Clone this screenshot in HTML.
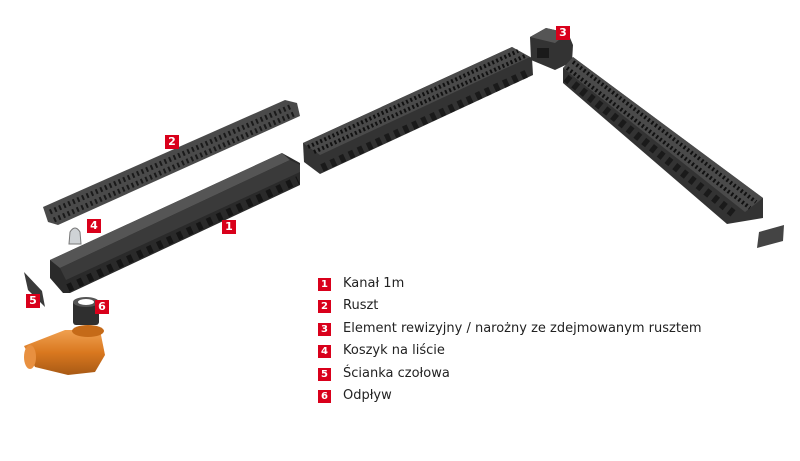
<!DOCTYPE html>
<html><head><meta charset="utf-8"><style>
html,body{margin:0;padding:0;background:#fff;width:800px;height:461px;overflow:hidden}
.lg{position:absolute;left:343px;font-family:"DejaVu Sans","Liberation Sans",sans-serif;font-size:13px;color:#222}
.bx{position:absolute;left:318px;width:13px;height:13px;background:#d9001b;color:#fff;font:bold 10px "DejaVu Sans",sans-serif;text-align:center;line-height:13px}
.tag{position:absolute;width:14px;height:14px;background:#d9001b;color:#fff;font:bold 11px "DejaVu Sans",sans-serif;text-align:center;line-height:14px}
</style></head><body>
<svg width="800" height="461" style="position:absolute;left:0;top:0">
<defs>
<linearGradient id="pipe" x1="0" y1="0" x2="0" y2="1"><stop offset="0" stop-color="#f0a050"/><stop offset="0.5" stop-color="#d9781f"/><stop offset="1" stop-color="#a85a15"/></linearGradient>
</defs>
<!-- grate 2 -->
<polygon points="43,207 285,100 297,103 300,116 58,225 48,222" fill="#4a4a4a"/>
<line x1="50" y1="212" x2="292" y2="106" stroke="#1a1a1a" stroke-width="5" stroke-dasharray="2 3"/>
<line x1="54" y1="220" x2="296" y2="113" stroke="#1a1a1a" stroke-width="5" stroke-dasharray="2 3"/>
<!-- channel 1 -->
<polygon points="50,260 282,153 300,163 300,185 70,293 63,293 50,278" fill="#2a2a2a"/>
<polygon points="50,260 282,153 290,160 60,268" fill="#555"/>
<polygon points="60,268 290,160 300,165 300,172 66,280" fill="#3a3a3a"/>
<line x1="68" y1="288" x2="298" y2="180" stroke="#151515" stroke-width="8" stroke-dasharray="5 6"/>
<!-- middle channel -->
<polygon points="303,143 512,47 532,58 533,75 320,174 304,162" fill="#333"/>
<polygon points="303,143 512,47 530,57 320,155" fill="#4a4a4a"/>
<line x1="308" y1="147" x2="518" y2="51" stroke="#111" stroke-width="4" stroke-dasharray="2 2.5"/>
<line x1="314" y1="152" x2="525" y2="56" stroke="#111" stroke-width="4" stroke-dasharray="2 2.5"/>
<line x1="322" y1="168" x2="530" y2="72" stroke="#1a1a1a" stroke-width="8" stroke-dasharray="5 5"/>
<!-- element 3 -->
<polygon points="530,37 546,28 568,33 573,45 572,62 555,70 531,60" fill="#333"/>
<polygon points="530,37 546,28 568,33 555,43" fill="#555"/>
<rect x="537" y="48" width="12" height="10" fill="#1a1a1a"/>
<!-- right channel -->
<polygon points="563,68 573,57 763,198 763,218 727,224 563,83" fill="#333"/>
<polygon points="563,68 573,57 763,198 745,212" fill="#4a4a4a"/>
<line x1="573" y1="62" x2="756" y2="202" stroke="#111" stroke-width="4" stroke-dasharray="2 2.5"/>
<line x1="567" y1="68" x2="750" y2="208" stroke="#111" stroke-width="4" stroke-dasharray="2 2.5"/>
<line x1="566" y1="78" x2="735" y2="215" stroke="#1a1a1a" stroke-width="8" stroke-dasharray="5 5"/>
<!-- end cap right -->
<polygon points="759,232 784,225 783,241 757,248" fill="#444"/>
<!-- end cap 5 left -->
<polygon points="24,272 42,291 45,307 28,290" fill="#3a3a3a"/>
<!-- basket 4 -->
<path d="M70,232 q5,-8 10,0 l1,12 l-12,0 z" fill="#cfd3d6" stroke="#777" stroke-width="1"/>
<!-- outlet 6 -->
<rect x="73" y="300" width="26" height="25" rx="3" fill="#2f2f2f"/>
<ellipse cx="86" cy="302" rx="13" ry="5" fill="#555"/>
<ellipse cx="86" cy="302" rx="8" ry="3" fill="#fff"/>
<path d="M24,346 L65,330 L100,330 L105,355 L95,372 L68,375 L35,367 Z" fill="url(#pipe)"/>
<ellipse cx="30" cy="357" rx="6" ry="12" fill="#e89040"/>
<ellipse cx="88" cy="331" rx="16" ry="6" fill="#c56a18"/>
</svg>
<div class="tag" style="left:165px;top:135px">2</div>
<div class="tag" style="left:222px;top:220px">1</div>
<div class="tag" style="left:87px;top:219px">4</div>
<div class="tag" style="left:26px;top:294px">5</div>
<div class="tag" style="left:95px;top:300px">6</div>
<div class="tag" style="left:556px;top:26px">3</div>
<div class="bx" style="top:278px">1</div><div class="lg" style="top:276px">Kanał 1m</div>
<div class="bx" style="top:300px">2</div><div class="lg" style="top:298px">Ruszt</div>
<div class="bx" style="top:323px">3</div><div class="lg" style="top:321px">Element rewizyjny / narożny ze zdejmowanym rusztem</div>
<div class="bx" style="top:345px">4</div><div class="lg" style="top:343px">Koszyk na liście</div>
<div class="bx" style="top:368px">5</div><div class="lg" style="top:366px">Ścianka czołowa</div>
<div class="bx" style="top:390px">6</div><div class="lg" style="top:388px">Odpływ</div>
</body></html>
